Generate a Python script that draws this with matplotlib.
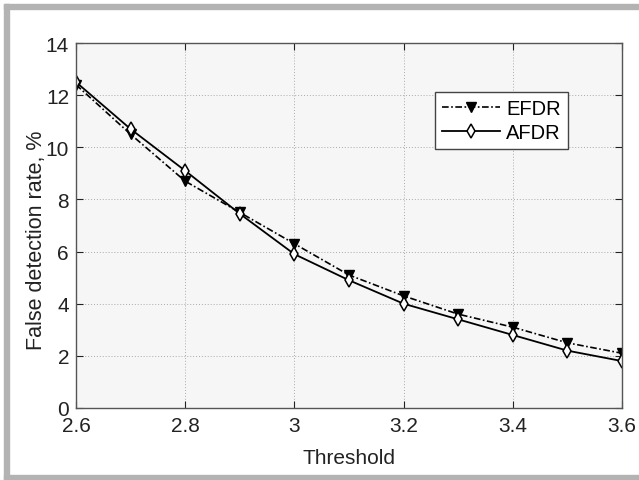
import matplotlib
matplotlib.use("Agg")
import matplotlib.pyplot as plt
from matplotlib.patches import Rectangle

threshold = [2.6, 2.7, 2.8, 2.9, 3.0, 3.1, 3.2, 3.3, 3.4, 3.5, 3.6]
efdr = [12.4, 10.5, 8.7, 7.5, 6.3, 5.1, 4.3, 3.6, 3.1, 2.5, 2.1]
afdr = [12.5, 10.7, 9.1, 7.45, 5.9, 4.9, 4.0, 3.4, 2.8, 2.2, 1.8]
xticks = [2.6, 2.8, 3.0, 3.2, 3.4, 3.6]
xticklabels = ["2.6", "2.8", "3", "3.2", "3.4", "3.6"]
yticks = [0, 2, 4, 6, 8, 10, 12, 14]

plt.rcParams['font.family'] = ['Liberation Sans', 'DejaVu Sans']
W, H = 639, 481
fig = plt.figure(figsize=(W/100, H/100), dpi=100)
fig.patch.set_facecolor('white')

gc = '#b3b3b3'
# gray frame bands
fig.add_artist(Rectangle((4/W, 0), 5/W, 1 - 5/H, transform=fig.transFigure, color=gc, zorder=0))
fig.add_artist(Rectangle((4/W, 1 - 10/H), 1 - 4/W, 5/H, transform=fig.transFigure, color=gc, zorder=0))
fig.add_artist(Rectangle((4/W, 0), 1 - 4/W, 5/H, transform=fig.transFigure, color=gc, zorder=0))

l, r, t, b = 76, 622, 44, 409
ax = fig.add_axes([l/W, 1 - b/H, (r - l)/W, (b - t)/H])
ax.set_facecolor('#f6f6f6')

ax.plot(threshold, efdr, linestyle=(0, (4, 1.5, 1, 1.5)), color='black', lw=1.2,
        marker='v', markersize=7.5, markerfacecolor='black', markeredgecolor='black', label='EFDR')
ax.plot(threshold, afdr, linestyle='-', color='black', lw=1.3,
        marker='d', markersize=7.5, markerfacecolor='white', markeredgecolor='black',
        markeredgewidth=1.1, label='AFDR')

ax.set_xlim(2.6, 3.6)
ax.set_ylim(0, 14)
ax.set_xticks(xticks)
ax.set_xticklabels(xticklabels)
ax.set_yticks(yticks)
ax.tick_params(direction='in', top=True, right=True, labelsize=15, length=5, colors='#222222', width=0.8)
ax.tick_params(axis='x', pad=6)
ax.tick_params(axis='y', pad=5)
ax.grid(True, linestyle=(0, (1, 2)), color='#aaaaaa', lw=0.7)
for s in ax.spines.values():
    s.set_color('#555555')
    s.set_linewidth(1.0)

ax.set_xlabel('Threshold', fontsize=15, color='#222222', labelpad=9)
ax.set_ylabel('False detection rate, %', fontsize=15.5, color='#222222')
ax.yaxis.set_label_coords((47 - l)/(r - l), 1 - (240 - t)/(b - t))

leg = ax.legend(loc='upper right', bbox_to_anchor=((568 - l)/(r - l), 1 - (93 - t)/(b - t)),
                fontsize=14.5, frameon=True, fancybox=False, edgecolor='#444444',
                handlelength=2.9, handletextpad=0.3, borderpad=0.35, labelspacing=0.25,
                borderaxespad=0)
leg.get_frame().set_linewidth(1.0)
leg.get_frame().set_facecolor('white')
leg.get_frame().set_alpha(1)

fig.savefig('out.png', dpi=100)
